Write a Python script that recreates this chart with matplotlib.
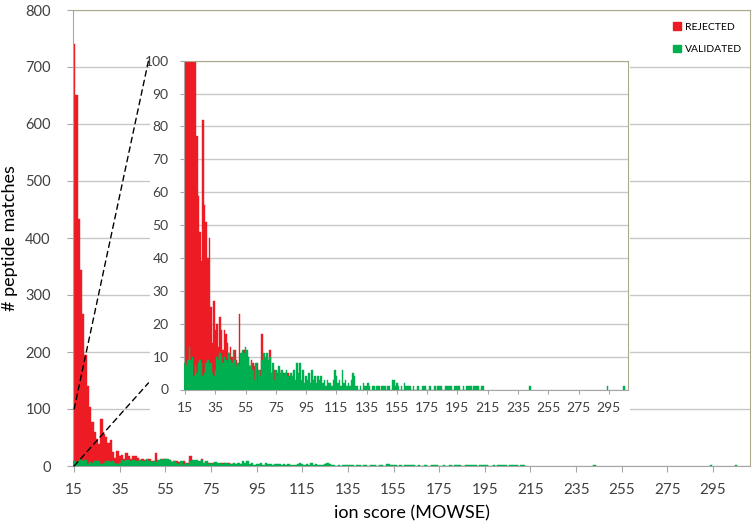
import numpy as np
import matplotlib.pyplot as plt
from matplotlib.patches import Patch, Rectangle, ConnectionPatch

plt.rcParams['font.family'] = ['Lato', 'DejaVu Sans']

# ion score bins start at 15, one bar per score
first_score = 15

# rejected peptide matches, scores 15..85
rejected = [740, 650, 434, 343, 267, 194, 141, 104, 77, 59,
            48, 39, 82, 56, 51, 40, 46, 25, 14, 27,
            18, 20, 13, 22, 18, 12, 18, 17, 14, 11,
            13, 10, 8, 12, 9, 8, 23, 8, 10, 12,
            12, 8, 10, 7, 9, 8, 7, 6, 8, 5,
            6, 17, 9, 7, 5, 6, 12, 5, 4, 6,
            4, 5, 6, 3, 4, 5, 5, 3, 5, 4,
            3]

# validated peptide matches, scores 15..212
validated = [8, 7, 9, 13, 9, 10, 4, 7, 5, 8,
             9, 8, 4, 5, 8, 9, 7, 8, 5, 4,
             6, 10, 9, 11, 10, 8, 10, 9, 8, 11,
             9, 8, 12, 9, 7, 8, 7, 11, 12, 11,
             13, 12, 10, 7, 8, 6, 3, 8, 2, 6,
             4, 9, 11, 10, 11, 9, 10, 5, 8, 3,
             6, 4, 7, 5, 6, 4, 5, 6, 4, 3,
             5, 4, 6, 3, 8, 5, 8, 3, 6, 2,
             4, 3, 5, 2, 6, 3, 4, 2, 4, 3,
             4, 2, 3, 1, 3, 2, 2, 1, 3, 6,
             4, 2, 3, 1, 6, 2, 3, 1, 2, 1,
             3, 5, 4, 1, 1, 0, 1, 0, 2, 1,
             1, 2, 1, 0, 1, 1, 0, 1, 1, 0,
             1, 1, 1, 0, 1, 1, 0, 3, 3, 1,
             2, 1, 0, 1, 0, 2, 1, 1, 1, 1,
             0, 1, 0, 0, 1, 0, 0, 1, 1, 1,
             0, 0, 1, 0, 0, 1, 0, 1, 1, 1,
             0, 0, 1, 1, 1, 1, 1, 0, 1, 1,
             1, 1, 0, 0, 1, 0, 1, 1, 1, 1,
             0, 1, 1, 1, 1, 0, 1, 1]

# a few isolated high-score validated matches
extra_scores = [243, 294, 305]
extra_counts = [1, 1, 1]

xticks = list(range(15, 296, 20))

RED = '#ED1C24'
GREEN = '#00B050'
GRID = '#C8C8C8'
FRAME = '#ADA98C'
AXIS = '#A6A6A6'

rej_x = np.arange(first_score, first_score + len(rejected))
val_x = np.concatenate([np.arange(first_score, first_score + len(validated)), extra_scores])
val_y = np.concatenate([validated, extra_counts])


def draw(a):
    a.bar(rej_x, rejected, width=1.0, color=RED, edgecolor=RED, linewidth=0.3, zorder=2)
    a.bar(val_x, val_y, width=1.0, color=GREEN, edgecolor=GREEN, linewidth=0.3, zorder=3)
    a.set_xticks(xticks)
    a.yaxis.grid(True, color=GRID, linewidth=1)
    a.set_axisbelow(True)
    a.spines['top'].set_color(FRAME)
    a.spines['right'].set_color(FRAME)
    a.spines['left'].set_color(AXIS)
    a.spines['bottom'].set_color(AXIS)


fig = plt.figure(figsize=(7.53, 5.25), dpi=100)

# main chart
ax = fig.add_axes([73 / 753, 1 - 466 / 525, 677 / 753, 456 / 525], zorder=0)
draw(ax)
ax.set_xlim(14.5, 311.2)
ax.set_ylim(0, 800)
ax.set_yticks(range(0, 801, 100))
ax.tick_params(axis='both', colors='#404040', labelsize=11, length=4, color=AXIS)
ax.tick_params(axis='y', labelsize=10.5, pad=12)
ax.tick_params(axis='x', pad=8)
ax.set_xlabel('ion score (MOWSE)', fontsize=13, labelpad=6)
ax.set_ylabel('# peptide matches', fontsize=13)
ax.yaxis.set_label_coords(-0.081, 0.5)

ax.legend(handles=[Patch(color=RED, label='REJECTED'), Patch(color=GREEN, label='VALIDATED')],
          loc='upper left', bbox_to_anchor=(664 / 753, 1 - 13 / 525),
          bbox_transform=fig.transFigure, frameon=False, fontsize=7.5,
          handlelength=0.7, handleheight=0.7, handletextpad=0.4, labelspacing=1.25)

# white area behind the inset (hides the main grid)
fig.add_artist(Rectangle((150 / 753, 1 - 422 / 525), 480 / 753, 367 / 525,
                         transform=fig.transFigure, facecolor='white',
                         edgecolor='none', zorder=1))

# zoomed inset
axin = fig.add_axes([184 / 753, 1 - 389.5 / 525, 444 / 753, 328.8 / 525], zorder=2)
draw(axin)
axin.set_xlim(14.3, 307.7)
axin.set_ylim(0, 100)
axin.set_yticks(range(0, 101, 10))
axin.tick_params(axis='both', colors='#404040', labelsize=10, length=3, color=AXIS)
axin.tick_params(axis='y', pad=8)
axin.tick_params(axis='x', pad=6)

# dashed zoom lines
for ya, yb in [(100, 1.0), (0, 0.02)]:
    con = ConnectionPatch(xyA=(first_score, ya), coordsA=ax.transData,
                          xyB=(-0.08, yb), coordsB=axin.transAxes,
                          linestyle=(0, (4, 3)), color='black', linewidth=1)
    con.set_zorder(5)
    fig.add_artist(con)

fig.savefig('out.png', dpi=100)
